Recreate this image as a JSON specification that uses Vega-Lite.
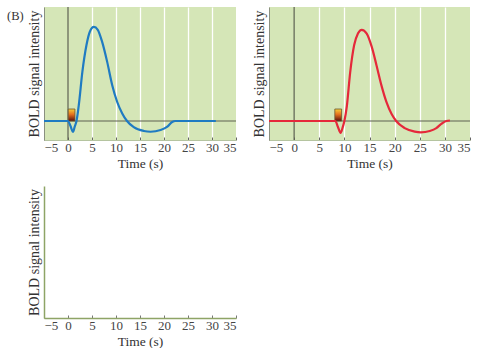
{
  "$schema": "https://vega.github.io/schema/vega-lite/v6.json",
  "padding": {"left": 6, "top": 6, "right": 0, "bottom": 0},
  "title": {"text": "(B)", "anchor": "start", "frame": "bounds", "orient": "top", "offset": -16, "dx": -20, "fontSize": 12.5, "font": "Liberation Serif", "fontWeight": "normal", "color": "#333333"},
  "datasets": {
    "blue": [
      {"t": -5, "v": 0}, {"t": 0, "v": 0}, {"t": 0.5, "v": -0.05}, {"t": 1.05, "v": -0.113}, {"t": 1.4, "v": -0.06},
      {"t": 1.77, "v": 0}, {"t": 2.25, "v": 0.168}, {"t": 3.0, "v": 0.52}, {"t": 3.85, "v": 0.8}, {"t": 4.55, "v": 0.94},
      {"t": 5.4, "v": 0.99}, {"t": 6.2, "v": 0.96}, {"t": 7.1, "v": 0.835}, {"t": 8.15, "v": 0.625}, {"t": 9.2, "v": 0.38},
      {"t": 10.25, "v": 0.2}, {"t": 11.3, "v": 0.08}, {"t": 12.3, "v": 0}, {"t": 13.7, "v": -0.065}, {"t": 15.8, "v": -0.105},
      {"t": 17.2, "v": -0.113}, {"t": 19.3, "v": -0.095}, {"t": 20.7, "v": -0.06}, {"t": 21.7, "v": -0.01}, {"t": 22.4, "v": 0},
      {"t": 30.8, "v": 0}
    ],
    "red": [
      {"t": -5, "v": 0}, {"t": 8.2, "v": 0}, {"t": 8.7, "v": -0.06}, {"t": 9.25, "v": -0.125}, {"t": 9.65, "v": -0.07},
      {"t": 10.0, "v": 0}, {"t": 10.5, "v": 0.16}, {"t": 11.15, "v": 0.51}, {"t": 11.95, "v": 0.8}, {"t": 12.7, "v": 0.92},
      {"t": 13.45, "v": 0.96}, {"t": 14.45, "v": 0.92}, {"t": 15.45, "v": 0.78}, {"t": 16.4, "v": 0.585}, {"t": 17.4, "v": 0.37},
      {"t": 18.4, "v": 0.196}, {"t": 19.4, "v": 0.073}, {"t": 20.3, "v": 0}, {"t": 22.0, "v": -0.075}, {"t": 24.0, "v": -0.112},
      {"t": 25.2, "v": -0.12}, {"t": 27.0, "v": -0.105}, {"t": 28.3, "v": -0.075}, {"t": 29.3, "v": -0.03}, {"t": 30.3, "v": 0},
      {"t": 31.0, "v": 0.005}
    ],
    "box1": [{"x0": 0.05, "x1": 1.45, "y0": 0, "y1": 0.126}],
    "box2": [{"x0": 8.1, "x1": 9.45, "y0": 0, "y1": 0.126}],
    "empty": []
  },
  "columns": 2,
  "spacing": {"row": 16, "column": 14},
  "concat": [
    {
      "width": 192,
      "height": 133,
      "view": {"fill": "#d5e6b7", "stroke": null},
      "encoding": {
        "x": {"field": "t", "type": "quantitative", "scale": {"domain": [-5, 35], "nice": false, "zero": false},
          "axis": {"title": "Time (s)", "values": [-5, 0, 5, 10, 15, 20, 25, 30, 35], "tickCount": 9, "grid": true, "labelOverlap": false,
            "gridColor": {"condition": {"test": "datum.value <= -5 || datum.value >= 35 || datum.value == 0", "value": "transparent"}, "value": "#ffffff"},
            "gridWidth": 1.3, "tickSize": -3, "tickColor": "#666666", "domainColor": "#b5c4a0", "labelPadding": 4, "titlePadding": 2}},
        "y": {"field": "v", "type": "quantitative", "scale": {"domain": [-0.2, 1.2], "nice": false, "zero": false},
          "axis": {"title": "BOLD signal intensity", "titleFontSize": 14, "labels": false, "ticks": false, "grid": false, "domainColor": "#8a9080", "titlePadding": 3}}
      },
      "layer": [
        {
          "data": {"values": [{"t": 0}]},
          "mark": {"type": "rule", "color": "#5e6152", "strokeWidth": 1.2},
          "encoding": {"y": null}
        },
        {
          "data": {"values": [{"v": 0}]},
          "mark": {"type": "rule", "color": "#5e6152", "strokeWidth": 1.2},
          "encoding": {"x": null}
        },
        {
          "data": {"name": "box1"},
          "mark": {"type": "rect", "stroke": "#6b5530", "strokeWidth": 0.8, "fill": {"gradient": "linear", "x1": 0, "y1": 0, "x2": 0, "y2": 1, "stops": [{"offset": 0, "color": "#f8cf38"}, {"offset": 0.45, "color": "#e5701d"}, {"offset": 1, "color": "#5c0f0c"}]}},
          "encoding": {
            "x": {"field": "x0", "type": "quantitative", "title": "Time (s)"},
            "x2": {"field": "x1"},
            "y": {"field": "y0", "type": "quantitative", "title": "BOLD signal intensity"},
            "y2": {"field": "y1"}
          }
        },
        {
          "data": {"name": "blue"},
          "mark": {"type": "line", "color": "#1f7bc2", "strokeWidth": 2.2, "interpolate": "monotone"}
        }
      ]
    },
    {
      "width": 201,
      "height": 133,
      "view": {"fill": "#d5e6b7", "stroke": null},
      "encoding": {
        "x": {"field": "t", "type": "quantitative", "scale": {"domain": [-5, 35], "nice": false, "zero": false},
          "axis": {"title": "Time (s)", "values": [-5, 0, 5, 10, 15, 20, 25, 30, 35], "tickCount": 9, "grid": true, "labelOverlap": false,
            "gridColor": {"condition": {"test": "datum.value <= -5 || datum.value >= 35 || datum.value == 0", "value": "transparent"}, "value": "#ffffff"},
            "gridWidth": 1.3, "tickSize": -3, "tickColor": "#666666", "domainColor": "#b5c4a0", "labelPadding": 4, "titlePadding": 2}},
        "y": {"field": "v", "type": "quantitative", "scale": {"domain": [-0.2, 1.2], "nice": false, "zero": false},
          "axis": {"title": "BOLD signal intensity", "titleFontSize": 14, "labels": false, "ticks": false, "grid": false, "domainColor": "#8a9080", "titlePadding": 3}}
      },
      "layer": [
        {
          "data": {"values": [{"t": 0}]},
          "mark": {"type": "rule", "color": "#5e6152", "strokeWidth": 1.2},
          "encoding": {"y": null}
        },
        {
          "data": {"values": [{"v": 0}]},
          "mark": {"type": "rule", "color": "#5e6152", "strokeWidth": 1.2},
          "encoding": {"x": null}
        },
        {
          "data": {"name": "box2"},
          "mark": {"type": "rect", "stroke": "#6b5530", "strokeWidth": 0.8, "fill": {"gradient": "linear", "x1": 0, "y1": 0, "x2": 0, "y2": 1, "stops": [{"offset": 0, "color": "#f8cf38"}, {"offset": 0.45, "color": "#e5701d"}, {"offset": 1, "color": "#5c0f0c"}]}},
          "encoding": {
            "x": {"field": "x0", "type": "quantitative", "title": "Time (s)"},
            "x2": {"field": "x1"},
            "y": {"field": "y0", "type": "quantitative", "title": "BOLD signal intensity"},
            "y2": {"field": "y1"}
          }
        },
        {
          "data": {"name": "red"},
          "mark": {"type": "line", "color": "#e5283a", "strokeWidth": 2.2, "interpolate": "monotone"}
        }
      ]
    },
    {
      "width": 192,
      "height": 132,
      "view": {"stroke": null},
      "data": {"name": "empty"},
      "mark": {"type": "line", "color": "#1f7bc2"},
      "encoding": {
        "x": {"field": "t", "type": "quantitative", "scale": {"domain": [-5, 35], "nice": false, "zero": false},
          "axis": {"title": "Time (s)", "values": [-5, 0, 5, 10, 15, 20, 25, 30, 35], "grid": false, "labelOverlap": false,
            "tickSize": -3, "tickColor": "#777777", "domainColor": "#8ea466", "domainWidth": 1.5, "labelPadding": 4, "titlePadding": 2}},
        "y": {"field": "v", "type": "quantitative", "scale": {"domain": [-0.2, 1.2], "nice": false, "zero": false},
          "axis": {"title": "BOLD signal intensity", "titleFontSize": 14, "labels": false, "ticks": false, "grid": false, "domainColor": "#8ea466", "domainWidth": 1.5, "titlePadding": 3}}
      }
    }
  ],
  "config": {
    "view": {"stroke": null},
    "font": "Liberation Serif",
    "axis": {"labelOverlap": false, "labelFont": "Liberation Serif", "titleFont": "Liberation Serif", "labelFontSize": 13, "titleFontSize": 13.5, "titleFontWeight": "normal", "labelColor": "#444444", "titleColor": "#333333"}
  }
}
